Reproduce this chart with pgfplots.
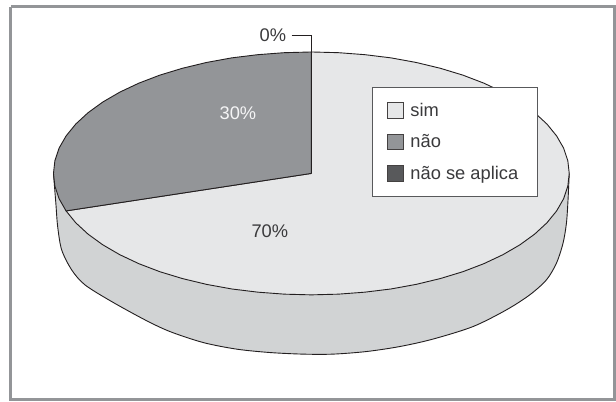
\documentclass[border=0pt]{standalone}
\usepackage{fontspec}
\setmainfont{Liberation Sans}
\usepackage{pgfplots}
\pgfplotsset{compat=1.18}
\definecolor{frameGray}{HTML}{939598}
\definecolor{simFill}{HTML}{E6E7E8}
\definecolor{wallFill}{HTML}{D1D3D4}
\definecolor{naoFill}{HTML}{939598}
\definecolor{nsaFill}{HTML}{58595B}
\definecolor{inkDark}{HTML}{231F20}
\definecolor{textDark}{HTML}{3A3A3C}
\begin{document}
\begin{tikzpicture}
\path (0,0) rectangle (616bp,401bp);
\begin{axis}[
  at={(0,0)}, anchor=south west,
  scale only axis, width=616bp, height=401bp,
  xmin=0, xmax=616, ymin=0, ymax=401, y dir=reverse,
  hide axis, clip=false,
  legend cell align=left,
  legend style={
    at={(axis cs:372.3,86.7)}, anchor=north west,
    draw=nsaFill, line width=0.9bp, fill=white,
    font=\fontsize{18.3bp}{20bp}\selectfont\color{textDark},
    inner xsep=14bp, inner ysep=14bp,
    row sep=12.8bp,
  },
  legend image code/.code={
    \path (21bp,0bp);
    \draw[#1,draw=inkDark!85,line width=0.9bp] (0bp,-7.7bp) rectangle (16bp,7.7bp);
  },
]
% outer frame
\addplot[forget plot, draw=frameGray, line width=3bp, no marks]
  coordinates {(11,6.8) (614.8,6.8) (614.8,400) (11,400) (11,6.8)};

% side wall of the disc, lower outline
\addplot[forget plot, draw=inkDark, fill=wallFill, line width=0.9bp, no marks, smooth]
  coordinates {(53.5,173.5) (54.8,190) (56,205) (57.7,226.7) (61.7,250) (71.7,270)
    (85,285) (111.7,301.7) (145,320) (170,331.7) (203.3,342.7) (236.7,349.3)
    (270,352.7) (303.3,354.3) (333,354.3) (366.7,351.7) (400,346.7) (433,339.3)
    (473.3,326.7) (506.7,310) (530,295) (546.7,280) (556.7,263.3) (563.3,243.3)
    (566.7,223.3) (568.3,200) (569.5,173.5)};

% sim, 70%
\addplot[draw=inkDark, fill=simFill, line width=0.9bp, no marks]
  coordinates {(311.5,173.5) (66.1,211) (75.8,222.9) (88.1,234.25) (102.8,244.9)
    (119.8,254.8) (138.9,263.8) (159.8,271.8) (182.5,278.7) (206.6,284.5)
    (231.8,289.1) (257.9,292.3) (284.5,294.3) (311.5,295) (338.5,294.3)
    (365.1,292.3) (391.2,289.1) (416.4,284.5) (440.5,278.7) (463.2,271.8)
    (484.1,263.8) (503.2,254.8) (520.2,244.9) (534.9,234.25) (547.2,222.9)
    (556.9,211) (563.9,198.8) (568.1,186.2) (569.5,173.5) (568.1,160.8)
    (563.9,148.2) (556.9,136) (547.2,124.1) (534.9,112.75) (520.2,102.1)
    (503.2,92.2) (484.1,83.2) (463.2,75.2) (440.5,68.3) (416.4,62.5)
    (391.2,57.9) (365.1,54.7) (338.5,52.7) (311.5,52) (311.5,173.5)};
\addlegendentry{sim}

% não, 30%
\addplot[draw=inkDark, fill=naoFill, line width=0.9bp, no marks]
  coordinates {(311.5,173.5) (311.5,52) (284.5,52.7) (257.9,54.7) (231.8,57.9)
    (206.6,62.5) (182.5,68.3) (159.8,75.2) (138.9,83.2) (119.8,92.2)
    (102.8,102.1) (88.1,112.75) (75.8,124.1) (66.1,136) (59.1,148.2)
    (54.9,160.8) (53.5,173.5) (54.9,186.2) (59.1,198.8) (66.1,211) (311.5,173.5)};
\addlegendentry{não}

% não se aplica, 0%: the slice has no width
\addplot[draw=inkDark, fill=nsaFill, line width=0.9bp, no marks]
  coordinates {(311.5,173.5) (311.5,52) (311.5,173.5)};
\addlegendentry{não se aplica\hspace{3bp}\rule[-9.5bp]{0pt}{1bp}}

% leader line of the 0% label
\addplot[forget plot, draw=inkDark, line width=0.8bp, no marks]
  coordinates {(291.7,35.5) (311.5,35.5) (311.5,173.5)};

\node[font=\fontsize{18.3bp}{20bp}\selectfont, text=textDark] at (axis cs:273,35) {0\%};
\node[font=\fontsize{18.3bp}{20bp}\selectfont, text=white!60!simFill] at (axis cs:238,113) {30\%};
\node[font=\fontsize{18.3bp}{20bp}\selectfont, text=textDark] at (axis cs:270,231.7) {70\%};
\end{axis}
\end{tikzpicture}
\end{document}
